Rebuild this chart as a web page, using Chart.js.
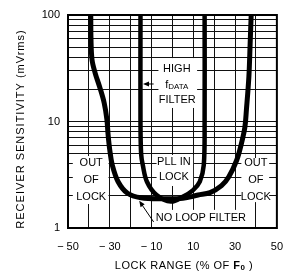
<!DOCTYPE html>
<html>
<head>
<meta charset="utf-8">
<script src="https://cdn.jsdelivr.net/npm/chart.js@4.4.1/dist/chart.umd.min.js"></script>
<style>
  html, body { margin: 0; padding: 0; background: #fff; }
  canvas { display: block; }
</style>
</head>
<body>
<canvas id="sensChart" width="295" height="276"></canvas>
<script>
// lock range (%) vs receiver sensitivity (mVrms)
const noFilterX = [-39.1, -39.0, -38.5, -37.0, -34.8, -32.7, -31.4, -30.8, -30.0, -28.8, -26.0, -21.5, -15.0, -5.0, 5.0, 12.3, 18.0, 23.5, 27.0, 30.8, 33.1, 34.7, 35.4, 36.6, 37.2, 37.7];
const noFilterY = [100, 60, 38, 28.5, 21, 15, 10.5, 7.5, 5.4, 3.9, 2.72, 2.12, 1.92, 1.88, 1.9, 2.04, 2.15, 2.5, 3.03, 4.35, 6.3, 8.9, 12.8, 26.4, 54, 100];

const highFilterX = [-15.3, -15.3, -15.0, -14.2, -12.2, -7.6, -0.7, 4.7, 9.9, 13.1, 15.0, 15.4, 15.4];
const highFilterY = [100, 10, 5, 3.9, 2.72, 2.04, 1.77, 1.95, 2.27, 2.72, 3.9, 10, 100];

const xTickValues = [-50, -30, -10, 10, 30, 50];
const xTickLabels = ["\u2212 50", "\u2212 30", "\u2212 10", "10", "30", "50"];
const yGridValues = [1, 2, 3, 4, 5, 6, 7, 8, 9, 10, 20, 30, 40, 50, 60, 70, 80, 90, 100];
const yTickValues = [1, 10, 100];
const yTickLabels = ["1", "10", "100"];

const SANS = "'Liberation Sans', Arial, sans-serif";
const NARROW = "'Liberation Sans Narrow', 'Liberation Sans', sans-serif";

// white boxes behind the notes: [x0, x1, y0, y1] in data units
const boxes = [
  [-6.7, 11.8, 39.4, 13.4],
  [-47.7, -30.6, 4.74, 1.68],
  [-7.6, 9.9, 4.85, 2.48],
  [33, 46.3, 4.54, 1.75],
  [-8.5, 34.8, 1.48, 1]
];

const notes = [
  ["HIGH", 2.1, 31.2],
  ["FILTER", 2.3, 15.9],
  ["OUT", -38.9, 4.08], ["OF", -38.9, 2.82], ["LOCK", -38.9, 1.95],
  ["PLL IN", 0.7, 4.17], ["LOCK", 0.7, 3.01],
  ["OUT", 39.9, 4.08], ["OF", 39.9, 2.82], ["LOCK", 39.9, 1.95],
  ["NO LOOP FILTER", 13.6, 1.24]
];

function arrow(ctx, x0, y0, x1, y1) {
  const a = Math.atan2(y1 - y0, x1 - x0);
  ctx.beginPath();
  ctx.moveTo(x0, y0);
  ctx.lineTo(x1 - 4 * Math.cos(a), y1 - 4 * Math.sin(a));
  ctx.stroke();
  ctx.beginPath();
  ctx.moveTo(x1, y1);
  ctx.lineTo(x1 - 6 * Math.cos(a) + 2.5 * Math.sin(a), y1 - 6 * Math.sin(a) - 2.5 * Math.cos(a));
  ctx.lineTo(x1 - 6 * Math.cos(a) - 2.5 * Math.sin(a), y1 - 6 * Math.sin(a) + 2.5 * Math.cos(a));
  ctx.closePath();
  ctx.fill();
}

const annotations = {
  id: "annotations",
  beforeDatasetsDraw(chart) {
    const { ctx, scales: { x, y } } = chart;
    ctx.save();
    ctx.fillStyle = "#fff";
    boxes.forEach((b) => {
      const x0 = x.getPixelForValue(b[0]);
      const x1 = x.getPixelForValue(b[1]);
      const y0 = y.getPixelForValue(b[2]);
      const y1 = y.getPixelForValue(b[3]);
      ctx.fillRect(x0, y0, x1 - x0, y1 - y0);
    });
    ctx.restore();
  },
  afterDatasetsDraw(chart) {
    const { ctx, scales: { x, y } } = chart;
    ctx.save();
    ctx.fillStyle = "#000";
    ctx.strokeStyle = "#000";
    ctx.textAlign = "center";
    ctx.textBaseline = "middle";
    ctx.font = "11px " + SANS;
    notes.forEach(([t, xv, yv]) => {
      ctx.fillText(t, x.getPixelForValue(xv), y.getPixelForValue(yv));
    });

    // f with small DATA subscript
    const cx = x.getPixelForValue(2.1);
    const cy = y.getPixelForValue(21.9);
    ctx.textAlign = "left";
    ctx.font = "11px " + SANS;
    const fw = ctx.measureText("f").width;
    ctx.font = "8px " + SANS;
    const dw = ctx.measureText("DATA").width;
    const start = cx - (fw + dw) / 2;
    ctx.font = "11px " + SANS;
    ctx.fillText("f", start, cy);
    ctx.font = "8px " + SANS;
    ctx.fillText("DATA", start + fw, cy + 2);

    ctx.lineWidth = 1;
    arrow(ctx, x.getPixelForValue(-9), y.getPixelForValue(22.5), x.getPixelForValue(-14.1), y.getPixelForValue(22.5));
    arrow(ctx, x.getPixelForValue(-9), y.getPixelForValue(1.14), x.getPixelForValue(-15.9), y.getPixelForValue(1.8));
    ctx.restore();
  },
  afterDraw(chart) {
    const { ctx, chartArea: a } = chart;
    ctx.save();
    ctx.strokeStyle = "#000";
    ctx.lineWidth = 2;
    ctx.strokeRect(a.left, a.top, a.right - a.left, a.bottom - a.top);

    ctx.fillStyle = "#000";
    ctx.textAlign = "center";
    ctx.textBaseline = "middle";
    ctx.font = "11px " + SANS;
    ctx.letterSpacing = "1px";
    ctx.translate(21, 129);
    ctx.rotate(-Math.PI / 2);
    ctx.fillText("RECEIVER SENSITIVITY (mVrms)", 0, 0);
    ctx.restore();

    // x title with bold F and subscript 0
    ctx.save();
    ctx.fillStyle = "#000";
    ctx.textBaseline = "middle";
    ctx.letterSpacing = "0.5px";
    const parts = [
      ["LOCK RANGE (% OF ", "11px " + SANS, 0],
      ["F", "bold 11px " + SANS, 0],
      ["0", "bold 8px " + SANS, 2],
      [" )", "11px " + SANS, 0]
    ];
    let w = 0;
    parts.forEach((p) => { ctx.font = p[1]; w += ctx.measureText(p[0]).width; });
    let px = 184 - w / 2;
    parts.forEach((p) => {
      ctx.font = p[1];
      ctx.fillText(p[0], px, 266 + p[2]);
      px += ctx.measureText(p[0]).width;
    });
    ctx.restore();
  }
};

new Chart(document.getElementById("sensChart"), {
  type: "line",
  data: {
    datasets: [
      {
        label: "No loop filter",
        data: noFilterX.map((v, i) => ({ x: v, y: noFilterY[i] })),
        borderColor: "#000",
        borderWidth: 5,
        tension: 0.35,
        pointRadius: 0,
        fill: false,
        clip: 0
      },
      {
        label: "High fDATA filter",
        data: highFilterX.map((v, i) => ({ x: v, y: highFilterY[i] })),
        borderColor: "#000",
        borderWidth: 4.5,
        tension: 0.35,
        pointRadius: 0,
        fill: false,
        clip: 0
      }
    ]
  },
  options: {
    responsive: false,
    animation: false,
    layout: { padding: { top: 15, right: 10, left: 0, bottom: 0 } },
    plugins: { legend: { display: false }, tooltip: { enabled: false } },
    scales: {
      x: {
        type: "linear",
        min: -50,
        max: 50,
        afterFit: (s) => { s.height = 48; },
        grid: { color: "#111", lineWidth: 1, drawTicks: false },
        border: { display: false },
        ticks: {
          stepSize: 10,
          autoSkip: false,
          maxRotation: 0,
          padding: 12,
          color: "#000",
          font: { family: SANS, size: 11 },
          callback: (v) => {
            const i = xTickValues.indexOf(v);
            return i >= 0 ? xTickLabels[i] : "";
          }
        }
      },
      y: {
        type: "logarithmic",
        min: 1,
        max: 100,
        afterFit: (s) => { s.width = 68; },
        afterBuildTicks: (s) => { s.ticks = yGridValues.map((v) => ({ value: v })); },
        grid: { color: "#111", lineWidth: 1, drawTicks: false },
        border: { display: false },
        ticks: {
          autoSkip: false,
          padding: 8,
          color: "#000",
          font: { family: NARROW, size: 11 },
          callback: (v) => {
            const i = yTickValues.indexOf(v);
            return i >= 0 ? yTickLabels[i] : "";
          }
        }
      }
    }
  },
  plugins: [annotations]
});
</script>
</body>
</html>
